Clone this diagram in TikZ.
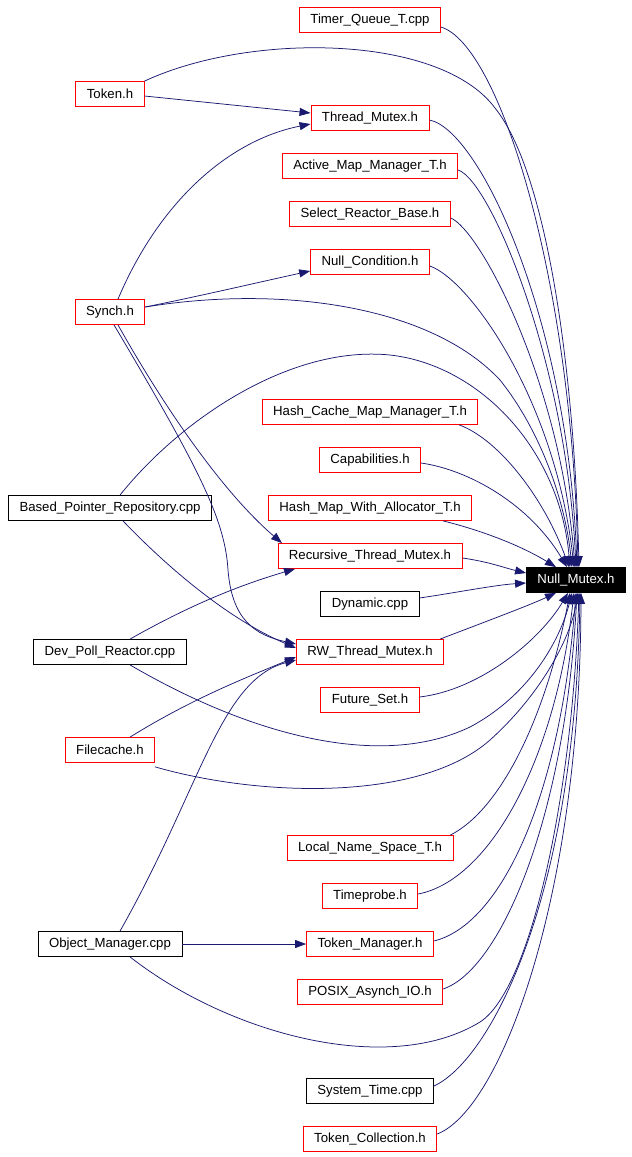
\documentclass[tikz,border=0pt]{standalone}
\usepackage{fontspec}
\setmainfont{Liberation Sans}
\usetikzlibrary{arrows.meta}
\definecolor{edgeblue}{RGB}{25,25,112}

\begin{document}
\begin{tikzpicture}[x=1pt, y=-1pt,
    file/.style={draw=red, line width=0.8pt, minimum height=25pt, inner xsep=11pt, inner ysep=0pt, font=\fontsize{13.2}{15}\selectfont},
    src/.style={file, draw=black},
    target/.style={file, draw=black, fill=black, text=white},
    dep/.style={draw=edgeblue, line width=0.75pt, -{Triangle[length=11pt, width=8pt]}}]
    \useasboundingbox (0,0) rectangle (632,1157);
    \node[file] (timerq) at (370,20) {Timer\_Queue\_T.cpp};
    \node[file] (token) at (110,94) {Token.h};
    \node[file] (thrmutex) at (370,118) {Thread\_Mutex.h};
    \node[file] (actmap) at (370,166) {Active\_Map\_Manager\_T.h};
    \node[file] (selreact) at (370,214) {Select\_Reactor\_Base.h};
    \node[file] (nullcond) at (370,262) {Null\_Condition.h};
    \node[file] (synch) at (110,312) {Synch.h};
    \node[file] (hashcache) at (370,412) {Hash\_Cache\_Map\_Manager\_T.h};
    \node[file] (capab) at (370,460) {Capabilities.h};
    \node[file] (hashmap) at (370,508) {Hash\_Map\_With\_Allocator\_T.h};
    \node[src] (basedptr) at (110,508) {Based\_Pointer\_Repository.cpp};
    \node[file] (recmutex) at (370,556) {Recursive\_Thread\_Mutex.h};
    \node[target] (nullmutex) at (576,580) {Null\_Mutex.h};
    \node[src] (dynamic) at (370,604) {Dynamic.cpp};
    \node[src] (devpoll) at (110,652) {Dev\_Poll\_Reactor.cpp};
    \node[file] (rwmutex) at (370,652) {RW\_Thread\_Mutex.h};
    \node[file] (futset) at (370,700) {Future\_Set.h};
    \node[file] (filecache) at (110,750) {Filecache.h};
    \node[file] (localns) at (370,848) {Local\_Name\_Space\_T.h};
    \node[file] (timeprobe) at (370,896) {Timeprobe.h};
    \node[src] (objmgr) at (110,944) {Object\_Manager.cpp};
    \node[file] (tokmgr) at (370,944) {Token\_Manager.h};
    \node[file] (posixio) at (370,992) {POSIX\_Asynch\_IO.h};
    \node[src] (systime) at (370,1091) {System\_Time.cpp};
    \node[file] (tokcoll) at (370,1139) {Token\_Collection.h};
    % includes coming from above
    \draw[dep] ([yshift=-7pt]timerq.east) .. controls (500,45) and (572,280) .. ([xshift=2pt]nullmutex.north);
    \draw[dep] (token.north east) .. controls (250,32) and (440,34) .. (495,108) .. controls (545,170) and (574,360) .. ([xshift=3pt]nullmutex.north);
    \draw[dep] ([yshift=-2pt]token.east) -- ([yshift=5pt]thrmutex.west);
    \draw[dep] ([xshift=8pt]synch.north) .. controls (160,200) and (230,140) .. ([yshift=-6pt]thrmutex.west);
    \draw[dep] ([yshift=-2pt]thrmutex.east) .. controls (480,130) and (568,320) .. ([xshift=1pt]nullmutex.north);
    \draw[dep] ([yshift=-4pt]actmap.east) .. controls (490,180) and (566,360) .. (nullmutex.north);
    \draw[dep] ([yshift=-4pt]selreact.east) .. controls (480,230) and (560,380) .. ([xshift=-1pt]nullmutex.north);
    \draw[dep] ([yshift=-4pt]nullcond.east) .. controls (470,280) and (555,400) .. ([xshift=-2pt]nullmutex.north);
    \draw[dep] ([yshift=5pt]synch.east) .. controls (200,296) and (260,282) .. ([yshift=-9pt]nullcond.west);
    \draw[dep] ([yshift=5pt]synch.east) .. controls (280,285) and (430,305) .. (500,380) .. controls (540,430) and (565,500) .. ([xshift=-4pt]nullmutex.north);
    \draw[dep] ([xshift=-19pt]hashcache.south east) .. controls (500,440) and (545,500) .. ([xshift=-7pt]nullmutex.north);
    \draw[dep] ([yshift=-3pt]capab.east) .. controls (470,470) and (530,505) .. ([xshift=-9pt]nullmutex.north);
    \draw[dep] ([xshift=-29pt]hashmap.south east) .. controls (480,530) and (520,545) .. ([xshift=-20pt]nullmutex.north);
    \draw[dep] ([xshift=10pt]basedptr.north) .. controls (180,420) and (290,345) .. (390,355) .. controls (480,365) and (560,450) .. ([xshift=-6pt]nullmutex.north);
    % includes from the left
    \draw[dep] ([yshift=-2pt]recmutex.east) .. controls (490,562) and (505,568) .. ([yshift=7pt]nullmutex.west);
    \draw[dep] ([yshift=6pt]dynamic.east) .. controls (460,592) and (495,585) .. ([yshift=-3pt]nullmutex.west);
    \draw[dep] ([xshift=8pt]synch.south) .. controls (160,400) and (220,490) .. ([xshift=-88pt]recmutex.north);
    \draw[dep] ([xshift=4pt]synch.south) .. controls (200,470) and (225,520) .. (228,570) .. controls (232,620) and (255,635) .. ([yshift=8pt]rwmutex.west);
    \draw[dep] ([xshift=13pt]basedptr.south) .. controls (170,570) and (230,620) .. ([yshift=4pt]rwmutex.west);
    \draw[dep] ([xshift=20pt]devpoll.north) .. controls (190,605) and (240,585) .. ([xshift=-75pt]recmutex.south);
    \draw[dep] ([xshift=20pt]filecache.north) .. controls (190,700) and (240,680) .. ([yshift=-5pt]rwmutex.west);
    \draw[dep] ([xshift=10pt]objmgr.north) .. controls (200,790) and (220,680) .. ([yshift=-8pt]rwmutex.west);
    \draw[dep] (objmgr.east) -- (tokmgr.west);
    % includes coming from below
    \draw[dep] ([xshift=-4pt]rwmutex.north east) .. controls (490,620) and (530,605) .. ([xshift=-20pt]nullmutex.south);
    \draw[dep] ([yshift=3pt]futset.east) .. controls (480,690) and (540,640) .. ([xshift=-8pt]nullmutex.south);
    \draw[dep] ([xshift=20pt]devpoll.south) .. controls (250,735) and (380,770) .. (470,727) .. controls (530,695) and (560,640) .. ([xshift=-4pt]nullmutex.south);
    \draw[dep] ([yshift=-4pt]filecache.south east) .. controls (260,797) and (420,802) .. (490,740) .. controls (540,695) and (570,640) .. ([xshift=2pt]nullmutex.south);
    \draw[dep] ([xshift=-3pt]localns.north east) .. controls (500,810) and (545,720) .. ([xshift=-6pt]nullmutex.south);
    \draw[dep] ([yshift=2pt]timeprobe.east) .. controls (490,880) and (555,760) .. ([xshift=-2pt]nullmutex.south);
    \draw[dep] ([yshift=3pt]tokmgr.east) .. controls (500,925) and (560,800) .. (nullmutex.south);
    \draw[dep] ([yshift=3pt]posixio.east) .. controls (500,970) and (565,820) .. ([xshift=1pt]nullmutex.south);
    \draw[dep] ([xshift=20pt]objmgr.south) .. controls (230,1035) and (390,1077) .. (480,1022) .. controls (530,990) and (572,800) .. ([xshift=3pt]nullmutex.south);
    \draw[dep] ([yshift=5pt]systime.east) .. controls (490,1060) and (575,900) .. ([xshift=4pt]nullmutex.south);
    \draw[dep] ([yshift=5pt]tokcoll.east) .. controls (500,1110) and (580,900) .. ([xshift=5pt]nullmutex.south);
\end{tikzpicture}
\end{document}
